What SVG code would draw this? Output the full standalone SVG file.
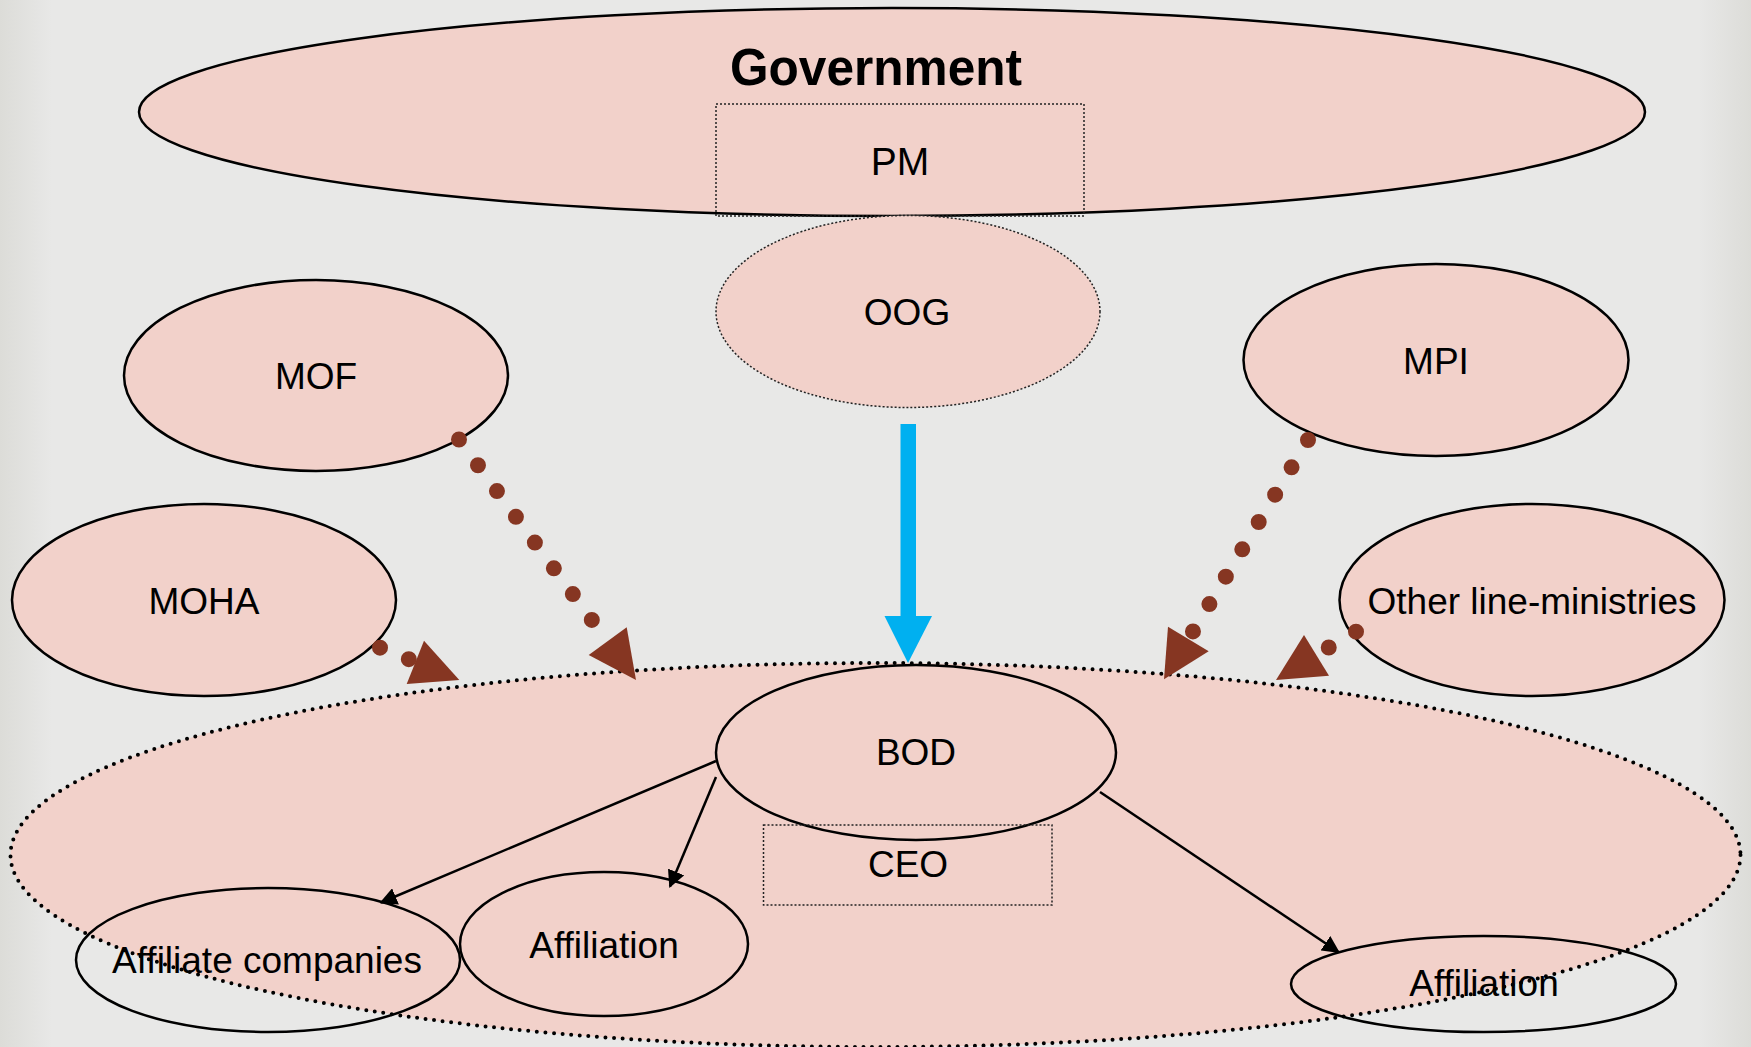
<svg xmlns="http://www.w3.org/2000/svg" width="1751" height="1047" viewBox="0 0 1751 1047">
<defs>
<style>
.solid{stroke:#000;stroke-width:2.5;fill:#F2D1CA}
.open{stroke:#000;stroke-width:2.5;fill:none}
.fine{stroke:#222;stroke-width:1.5;stroke-dasharray:2 2;fill:#F2D1CA}
.finebox{stroke:#222;stroke-width:1.5;stroke-dasharray:2 2;fill:none}
.bigdot{stroke:#000;stroke-width:4;stroke-dasharray:0 8.6;stroke-linecap:round;fill:#F2D1CA}
.brown{stroke:#863622;stroke-width:16;stroke-linecap:round;fill:none}
.head{fill:#863622}
.black{stroke:#000;stroke-width:2.5;fill:none}
text{font-family:"Liberation Sans",Arial,sans-serif;font-size:37px;fill:#000;text-anchor:middle}
.title{font-size:52px;font-weight:bold}
</style>
<linearGradient id="edge" x1="0" y1="0" x2="1" y2="0">
<stop offset="0" stop-color="#DCDCD8"/>
<stop offset="0.03" stop-color="#E8E8E7"/>
<stop offset="0.97" stop-color="#E8E8E7"/>
<stop offset="1" stop-color="#DCDCD8"/>
</linearGradient>
<marker id="ah" viewBox="0 0 10 10" refX="9" refY="5" markerWidth="7" markerHeight="7" orient="auto" markerUnits="strokeWidth">
<path d="M0,0 L10,5 L0,10 z" fill="#000"/>
</marker>
</defs>
<rect x="0" y="0" width="1751" height="1047" fill="url(#edge)"/>

<g id="company">
<ellipse class="bigdot" cx="875.5" cy="855" rx="865" ry="192"/>
</g>

<g id="government">
<ellipse class="solid" cx="892" cy="112" rx="753" ry="104"/>
<text class="title" x="876" y="85" textLength="292" lengthAdjust="spacingAndGlyphs">Government</text>
</g>
<g id="pm">
<rect class="finebox" x="716" y="104" width="368" height="112"/>
<text x="900" y="175" style="font-size:39px">PM</text>
</g>
<g id="oog">
<ellipse class="fine" cx="908" cy="311.5" rx="192" ry="96"/>
<text x="907" y="325">OOG</text>
</g>
<g id="mof">
<ellipse class="solid" cx="316" cy="375.5" rx="192" ry="95.5"/>
<text x="316" y="389">MOF</text>
</g>
<g id="mpi">
<ellipse class="solid" cx="1436" cy="360" rx="192.5" ry="96"/>
<text x="1436" y="374">MPI</text>
</g>
<g id="moha">
<ellipse class="solid" cx="204" cy="600" rx="192" ry="96"/>
<text x="204" y="614">MOHA</text>
</g>
<g id="other">
<ellipse class="solid" cx="1532" cy="600" rx="192.5" ry="96"/>
<text x="1532" y="614">Other line-ministries</text>
</g>
<g id="bod">
<ellipse class="solid" cx="916" cy="752.5" rx="200" ry="87.5"/>
<text x="916" y="765">BOD</text>
</g>
<g id="ceo">
<rect class="finebox" x="763.5" y="825" width="288.5" height="80"/>
<text x="908" y="877">CEO</text>
</g>
<g id="affiliate-companies">
<ellipse class="open" cx="268" cy="960" rx="192" ry="72"/>
<text x="267" y="973">Affiliate companies</text>
</g>
<g id="affiliation-1">
<ellipse class="open" cx="604" cy="944" rx="144" ry="72"/>
<text x="604" y="958">Affiliation</text>
</g>
<g id="affiliation-2">
<ellipse class="open" cx="1483.5" cy="984" rx="192.5" ry="48"/>
<text x="1484" y="996">Affiliation</text>
</g>

<g id="connectors">
<rect x="900.5" y="424" width="15.5" height="193" fill="#00B0F0"/>
<polygon points="884.5,616 932,616 908,663" fill="#00B0F0"/>

<line class="brown" x1="459" y1="439.5" x2="593" y2="621.5" stroke-dasharray="0 32"/>
<polygon class="head" points="588.7,655 626.7,627.3 636,680"/>

<line class="brown" x1="380" y1="647.7" x2="410" y2="659.6" stroke-dasharray="0 31"/>
<polygon class="head" points="424,640.7 459.3,680 406.7,684"/>

<line class="brown" x1="1308" y1="440" x2="1192" y2="633" stroke-dasharray="0 31.9"/>
<polygon class="head" points="1168,626.7 1208.7,651.3 1164,679.3"/>

<line class="brown" x1="1356" y1="631.7" x2="1327.5" y2="648.2" stroke-dasharray="0 31.5"/>
<polygon class="head" points="1304,635 1329,675.7 1276,680"/>

<line class="black" x1="716" y1="761" x2="381" y2="902.5" marker-end="url(#ah)"/>
<line class="black" x1="716" y1="777" x2="670" y2="886.5" marker-end="url(#ah)"/>
<line class="black" x1="1100" y1="792" x2="1338.5" y2="952" marker-end="url(#ah)"/>
</g>
</svg>
